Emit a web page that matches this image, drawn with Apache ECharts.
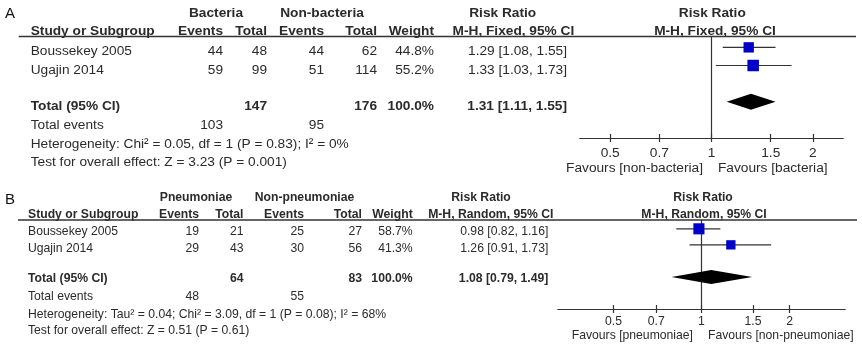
<!DOCTYPE html>
<html>
<head>
<meta charset="utf-8">
<script src="https://cdn.jsdelivr.net/npm/echarts@6/dist/echarts.min.js"></script>
<style>html,body{margin:0;padding:0;background:#fff}</style>
</head>
<body>
<div id="main" style="width:862px;height:350px"></div>
<script>
// A: bacteria vs non-bacteria (fixed effect)
const studiesA = ['Boussekey 2005', 'Ugajin 2014'];
const eventsBact = [44, 59];
const totalBact = [48, 99];
const eventsNonBact = [44, 51];
const totalNonBact = [62, 114];
const weightA = [44.8, 55.2];
const rrA = [1.29, 1.33];
const lowA = [1.08, 1.03];
const highA = [1.55, 1.73];
const pooledA = [1.31, 1.11, 1.55];
const sumTotalA = [147, 176];
const sumEventsA = [103, 95];

// B: pneumoniae vs non-pneumoniae (random effects)
const studiesB = ['Boussekey 2005', 'Ugajin 2014'];
const eventsPneu = [19, 29];
const totalPneu = [21, 43];
const eventsNonPneu = [25, 30];
const totalNonPneu = [27, 56];
const weightB = [58.7, 41.3];
const rrB = [0.98, 1.26];
const lowB = [0.82, 0.91];
const highB = [1.16, 1.73];
const pooledB = [1.08, 0.79, 1.49];
const sumTotalB = [64, 83];
const sumEventsB = [48, 55];

const tickValues = [0.5, 0.7, 1, 1.5, 2];
const studyRows = [1, 2];
const totalRow = 4;

const panels = [
  {
    tag: 'A',
    groups: ['Bacteria', 'Non-bacteria', 'Risk Ratio', 'Risk Ratio'],
    heads: ['Study or Subgroup', 'Events', 'Total', 'Events', 'Total', 'Weight', 'M-H, Fixed, 95% CI', 'M-H, Fixed, 95% CI'],
    studies: studiesA, cols: [eventsBact, totalBact, eventsNonBact, totalNonBact],
    weight: weightA, rr: rrA, low: lowA, high: highA, pooled: pooledA,
    sumTotal: sumTotalA, sumEvents: sumEventsA,
    het: 'Heterogeneity: Chi\u00b2 = 0.05, df = 1 (P = 0.83); I\u00b2 = 0%',
    test: 'Test for overall effect: Z = 3.23 (P = 0.001)',
    fav: ['Favours [non-bacteria]', 'Favours [bacteria]'],
    // layout
    fs: 13.7, tagY: 14, h1Y: 13, h2Y: 31, ruleY: 36.5, ruleX: [18.7, 856],
    rowY: [51.5, 70], totY: 106, evY: 125, hetY: 144, testY: 162,
    xStudy: 30.7, colX: [223, 267, 324, 377, 434, 567],
    groupX: [216, 322, 502.7, 712.3], rrHeadX: 513.4, plotHeadX: 715,
    favY: 168, favX: [703, 718],
    grid: { left: 580, width: 263, top: 36.5, height: 101.5 },
    xMin: -0.9, xMax: 0.9, yMin: 0.4, yMax: 6, half: 8, margin: 8, k: 1.55
  },
  {
    tag: 'B',
    groups: ['Pneumoniae', 'Non-pneumoniae', 'Risk Ratio', 'Risk Ratio'],
    heads: ['Study or Subgroup', 'Events', 'Total', 'Events', 'Total', 'Weight', 'M-H, Random, 95% CI', 'M-H, Random, 95% CI'],
    studies: studiesB, cols: [eventsPneu, totalPneu, eventsNonPneu, totalNonPneu],
    weight: weightB, rr: rrB, low: lowB, high: highB, pooled: pooledB,
    sumTotal: sumTotalB, sumEvents: sumEventsB,
    het: 'Heterogeneity: Tau\u00b2 = 0.04; Chi\u00b2 = 3.09, df = 1 (P = 0.08); I\u00b2 = 68%',
    test: 'Test for overall effect: Z = 0.51 (P = 0.61)',
    fav: ['Favours [pneumoniae]', 'Favours [non-pneumoniae]'],
    fs: 12.2, tagY: 200, h1Y: 198, h2Y: 215, ruleY: 220, ruleX: [18, 857],
    rowY: [232, 249], totY: 279, evY: 297, hetY: 315, testY: 331,
    xStudy: 28, colX: [199, 243.5, 304, 362, 412.7, 548.3],
    groupX: [196, 304.5, 481, 703], rrHeadX: 490.8, plotHeadX: 704,
    favY: 336, favX: [693, 708],
    grid: { left: 558, width: 287, top: 220, height: 89 },
    xMin: -1.13, xMax: 1.13, yMin: 0.45, yMax: 6, half: 7, margin: 7, k: 1.45
  }
];

const FAM = '"Liberation Sans", Arial, sans-serif';
const INK = '#2b2b2b';

function txt(text, x, y, size, bold, align) {
  return {
    type: 'text', x: x, y: y, silent: true,
    style: {
      text: String(text), fill: INK, align: align || 'left', verticalAlign: 'middle',
      font: (bold ? 'bold ' : '') + size + 'px ' + FAM
    }
  };
}

function ci(r, l, h) {
  return r.toFixed(2) + ' [' + l.toFixed(2) + ', ' + h.toFixed(2) + ']';
}

let graphics = [], grids = [], xAxes = [], yAxes = [], series = [];

panels.forEach(function (p, i) {
  const fs = p.fs;
  graphics.push({
    type: 'text', x: 5, y: p.tagY, silent: true,
    style: { text: p.tag, fill: '#111', align: 'left', verticalAlign: 'middle', font: '15px ' + FAM }
  });
  p.groups.forEach(function (g, j) { graphics.push(txt(g, p.groupX[j], p.h1Y, fs, true, 'center')); });
  graphics.push(txt(p.heads[0], p.xStudy, p.h2Y, fs, true, 'left'));
  for (let j = 1; j <= 5; j++) graphics.push(txt(p.heads[j], p.colX[j - 1], p.h2Y, fs, true, 'right'));
  graphics.push(txt(p.heads[6], p.rrHeadX, p.h2Y, fs, true, 'center'));
  graphics.push(txt(p.heads[7], p.plotHeadX, p.h2Y, fs, true, 'center'));
  graphics.push({
    type: 'line', silent: true,
    shape: { x1: p.ruleX[0], y1: p.ruleY, x2: p.ruleX[1], y2: p.ruleY },
    style: { stroke: '#333', lineWidth: 1.3 }
  });

  p.studies.forEach(function (s, r) {
    const y = p.rowY[r];
    graphics.push(txt(s, p.xStudy, y, fs, false, 'left'));
    p.cols.forEach(function (col, c) { graphics.push(txt(col[r], p.colX[c], y, fs, false, 'right')); });
    graphics.push(txt(p.weight[r].toFixed(1) + '%', p.colX[4], y, fs, false, 'right'));
    graphics.push(txt(ci(p.rr[r], p.low[r], p.high[r]), p.colX[5], y, fs, false, 'right'));
  });

  graphics.push(txt('Total (95% CI)', p.xStudy, p.totY, fs, true, 'left'));
  graphics.push(txt(p.sumTotal[0], p.colX[1], p.totY, fs, true, 'right'));
  graphics.push(txt(p.sumTotal[1], p.colX[3], p.totY, fs, true, 'right'));
  graphics.push(txt('100.0%', p.colX[4], p.totY, fs, true, 'right'));
  graphics.push(txt(ci(p.pooled[0], p.pooled[1], p.pooled[2]), p.colX[5], p.totY, fs, true, 'right'));

  graphics.push(txt('Total events', p.xStudy, p.evY, fs, false, 'left'));
  graphics.push(txt(p.sumEvents[0], p.colX[0], p.evY, fs, false, 'right'));
  graphics.push(txt(p.sumEvents[1], p.colX[2], p.evY, fs, false, 'right'));
  graphics.push(txt(p.het, p.xStudy, p.hetY, fs, false, 'left'));
  graphics.push(txt(p.test, p.xStudy, p.testY, fs, false, 'left'));

  graphics.push(txt(p.fav[0], p.favX[0], p.favY, fs, false, 'right'));
  graphics.push(txt(p.fav[1], p.favX[1], p.favY, fs, false, 'left'));

  grids.push(Object.assign({ outerBoundsMode: 'none' }, p.grid));

  const logTicks = tickValues.map(function (t) { return Math.log(t); });
  const baseX = {
    type: 'value', gridIndex: i, min: p.xMin, max: p.xMax, position: 'bottom',
    splitLine: { show: false },
    axisLine: { onZero: false, lineStyle: { color: '#333', width: 1.2 } }
  };
  xAxes.push(Object.assign({}, baseX, {
    axisTick: { show: true, length: 4, customValues: logTicks, lineStyle: { color: '#333', width: 1.2 } },
    axisLabel: {
      show: true, customValues: logTicks, margin: p.margin, color: INK, fontSize: fs, fontFamily: FAM,
      formatter: function (v) { return String(+Math.exp(v).toFixed(2)); }
    }
  }));
  xAxes.push(Object.assign({}, baseX, {
    axisTick: { show: true, inside: true, length: 4, customValues: logTicks, lineStyle: { color: '#333', width: 1.2 } },
    axisLabel: { show: false }
  }));
  yAxes.push({
    type: 'value', gridIndex: i, min: p.yMin, max: p.yMax, inverse: true,
    splitLine: { show: false }, axisTick: { show: false }, axisLabel: { show: false },
    axisLine: { show: true, onZero: true, lineStyle: { color: '#333', width: 1.2 } }
  });

  const studyData = p.rr.map(function (v, r) {
    return [Math.log(v), Math.log(p.low[r]), Math.log(p.high[r]), studyRows[r], p.weight[r]];
  });
  const k = p.k;
  series.push({
    type: 'custom', xAxisIndex: i * 2, yAxisIndex: i, silent: true,
    encode: { x: [0, 1, 2], y: 3 },
    data: studyData,
    renderItem: function (params, api) {
      const c = api.coord([api.value(0), api.value(3)]);
      const l = api.coord([api.value(1), api.value(3)]);
      const h = api.coord([api.value(2), api.value(3)]);
      const s = k * Math.sqrt(api.value(4));
      return {
        type: 'group', children: [
          { type: 'line', shape: { x1: l[0], y1: c[1], x2: h[0], y2: c[1] }, style: { stroke: '#333', lineWidth: 1.2 } },
          { type: 'rect', shape: { x: c[0] - s / 2, y: c[1] - s / 2, width: s, height: s }, style: { fill: '#0000c8' } }
        ]
      };
    }
  });
  const half = p.half;
  series.push({
    type: 'custom', xAxisIndex: i * 2, yAxisIndex: i, silent: true,
    encode: { x: [0, 1, 2], y: 3 },
    data: [[Math.log(p.pooled[0]), Math.log(p.pooled[1]), Math.log(p.pooled[2]), totalRow]],
    renderItem: function (params, api) {
      const c = api.coord([api.value(0), api.value(3)]);
      const l = api.coord([api.value(1), api.value(3)]);
      const h = api.coord([api.value(2), api.value(3)]);
      return {
        type: 'polygon',
        shape: { points: [[l[0], c[1]], [c[0], c[1] - half], [h[0], c[1]], [c[0], c[1] + half]] },
        style: { fill: '#000' }
      };
    }
  });
});

const chart = echarts.init(document.getElementById('main'), null, { width: 862, height: 350 });
chart.setOption({
  backgroundColor: '#fff',
  animation: false,
  grid: grids,
  xAxis: xAxes,
  yAxis: yAxes,
  series: series,
  graphic: { elements: graphics }
});
</script>
</body>
</html>
